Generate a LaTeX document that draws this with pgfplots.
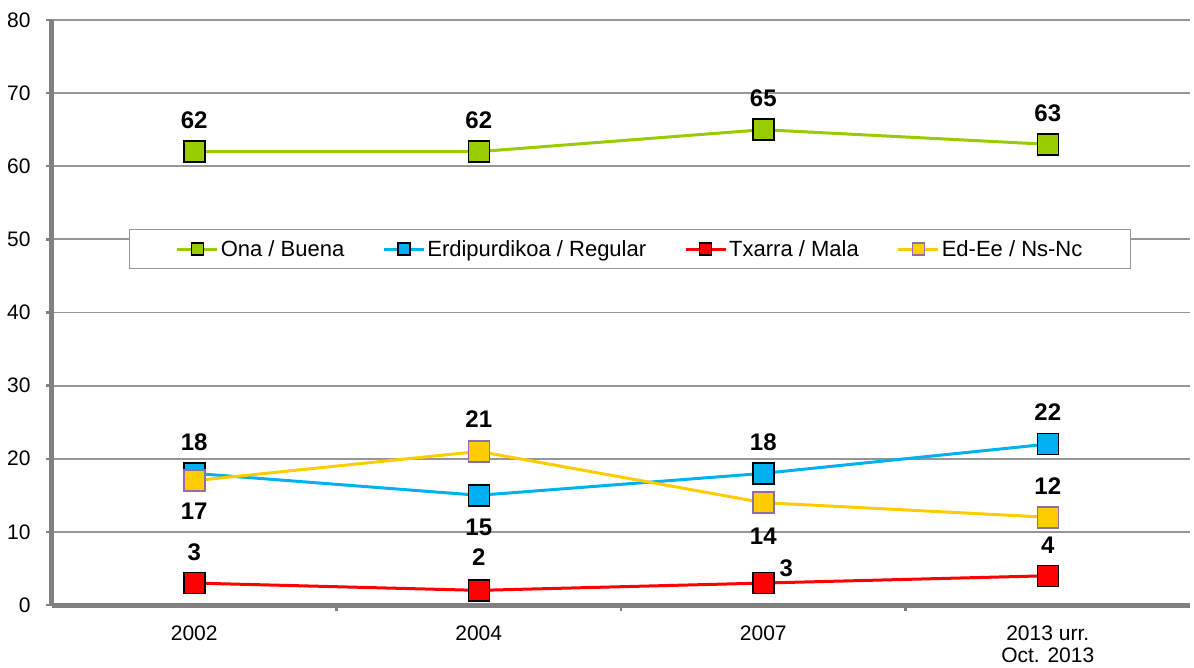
\documentclass[border=0pt]{standalone}
\usepackage{fontspec}
\setmainfont{Liberation Sans}
\usepackage{pgfplots}
\pgfplotsset{compat=1.18}
\usepackage{pgfplotstable}

\definecolor{cgreen}{RGB}{153,204,0}
\definecolor{cblue}{RGB}{0,176,240}
\definecolor{cred}{RGB}{255,0,0}
\definecolor{cyellow}{RGB}{255,204,0}
\definecolor{cpurple}{RGB}{140,110,170}
\definecolor{axgray}{RGB}{128,128,128}
\definecolor{gridgray}{RGB}{150,150,150}

\pgfplotstableread{
x y dx dy
0 62 0 31
1 62 0 31
2 65 0 31
3 63 0 31
}\ona
\pgfplotstableread{
x y dx dy
0 18 0 31
1 15 0 -32
2 18 0 31
3 22 0 32
}\erdi
\pgfplotstableread{
x y dx dy
0 3 0 31
1 2 0 33
2 3 23 15
3 4 0 31
}\txarra
\pgfplotstableread{
x y dx dy
0 17 0 -31
1 21 0 32
2 14 0 -34
3 12 0 31
}\eded

\begin{document}
\begin{tikzpicture}
\begin{axis}[
  name=ax,
  scale only axis,
  width=1138pt, height=585pt,
  xmin=-0.5, xmax=3.5, ymin=0, ymax=80,
  ytick={0,10,...,80},
  xtick={0.5,1.5,2.5},
  xticklabels={},
  extra x ticks={0,1,2,3},
  extra x tick labels={2002,2004,2007,{2013 urr.\\Oct. 2013}},
  extra x tick style={major tick length=0pt, grid=none},
  xticklabel style={align=center, font=\fontsize{21}{22}\selectfont, yshift=-17pt},
  yticklabel style={font=\fontsize{21}{24}\selectfont, xshift=-12pt},
  /pgf/number format/assume math mode=true,
  axis x line*=bottom, axis y line*=left,
  axis line style={line width=5pt, color=axgray, -},
  tick align=outside,
  major tick length=6pt,
  tick style={line width=2.5pt, color=axgray},
  ymajorgrids,
  grid style={line width=1.8pt, color=gridgray},
  clip=false,
  legend style={at={(0.508,0.6085)}, anchor=center, legend columns=4,
    draw=gridgray, line width=1.2pt, fill=white,
    font=\fontsize{22}{26}\selectfont,
    inner xsep=46pt, inner ysep=9pt,
    /tikz/every even column/.append style={column sep=36pt}},
  legend cell align=left,
  legend image code/.code={\draw[#1, mark size=6pt, mark repeat=2, mark phase=2] plot coordinates {(0pt,0pt) (20pt,0pt) (40pt,0pt)};},
  every axis plot/.append style={line width=3pt, mark=square*, mark size=10.5pt},
  nodes near coords,
  visualization depends on={\thisrow{dx}\as\dx},
  visualization depends on={\thisrow{dy}\as\dy},
  every node near coord/.append style={anchor=center, xshift=\dx pt, yshift=\dy pt, font=\fontsize{24}{26}\selectfont\bfseries, text=black},
]
\addplot[color=cgreen, mark options={fill=cgreen, draw=black, line width=1.5pt}] table[x=x, y=y, meta=y] {\ona};
\addlegendentry{Ona / Buena}
\addplot[color=cblue, mark options={fill=cblue, draw=black, line width=1.5pt}] table[x=x, y=y, meta=y] {\erdi};
\addlegendentry{Erdipurdikoa / Regular}
\addplot[color=cred, mark options={fill=cred, draw=black, line width=1.5pt}] table[x=x, y=y, meta=y] {\txarra};
\addlegendentry{Txarra / Mala}
\addplot[color=cyellow, mark options={fill=cyellow, draw=cpurple, line width=1.5pt}] table[x=x, y=y, meta=y] {\eded};
\addlegendentry{Ed-Ee / Ns-Nc}
\end{axis}
\pgfresetboundingbox
\path (ax.south west) ++(-52pt,-62pt) coordinate (bl);
\path (ax.north east) ++(4pt,20pt) coordinate (tr);
\path[use as bounding box] (bl) rectangle (tr);
\end{tikzpicture}
\end{document}
